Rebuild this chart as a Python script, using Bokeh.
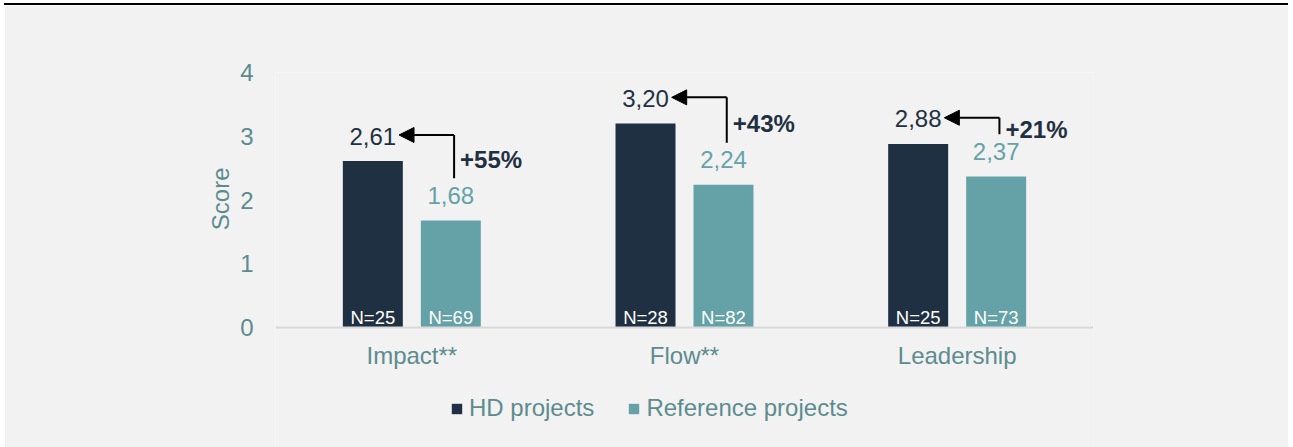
from bokeh.plotting import figure
from bokeh.models import (ColumnDataSource, FactorRange, Range1d, FixedTicker, Legend, LegendItem,
                          Arrow, NormalHead, Div, Title)
from bokeh.layouts import column
from bokeh.transform import dodge
from bokeh.core.properties import value
from bokeh.embed import file_html
from bokeh.resources import INLINE

# ---- data ----
categories = ["Impact**", "Flow**", "Leadership"]
hd_scores = [2.61, 3.20, 2.88]
ref_scores = [1.68, 2.24, 2.37]
hd_n = [25, 28, 25]
ref_n = [69, 82, 73]
pct_labels = ["+55%", "+43%", "+21%"]
series_names = ["HD projects", "Reference projects"]
y_ticks = [0, 1, 2, 3, 4]
y_title = "Score"

# ---- style ----
FONT = "Liberation Sans"
FS = "24px"
DARK = "#1F3042"
TEAL = "#65A2A8"
AXIS_TXT = "#5C8C8F"
BG = "#F2F2F2"
OFF = 0.143
BAR_W = 0.22
PX_PER_UNIT = 63.75
BELOW_PX = 120  # room below the zero line for category labels and legend


def fmt(v):
    return f"{v:.2f}".replace(".", ",")


src = ColumnDataSource(dict(
    cat=categories,
    hd=hd_scores,
    ref=ref_scores,
    hd_lbl=[fmt(v) for v in hd_scores],
    ref_lbl=[fmt(v) for v in ref_scores],
    hd_n=[f"N={n}" for n in hd_n],
    ref_n=[f"N={n}" for n in ref_n],
    zero=[0] * len(categories),
))

p = figure(width=1284, height=442, x_range=FactorRange(*categories, range_padding=0),
           y_range=Range1d(-BELOW_PX / PX_PER_UNIT, 4), output_backend="svg", toolbar_location=None,
           min_border_left=271, min_border_right=195, min_border_top=67, min_border_bottom=0,
           background_fill_color=BG, border_fill_color=BG)
p.outline_line_color = None
p.xgrid.visible = False
p.ygrid.visible = False

r_hd = p.vbar(x=dodge("cat", -OFF, range=p.x_range), top="hd", width=BAR_W, source=src,
              fill_color=DARK, line_color=None)
r_ref = p.vbar(x=dodge("cat", OFF, range=p.x_range), top="ref", width=BAR_W, source=src,
               fill_color=TEAL, line_color=None)

# value labels
p.text(x=dodge("cat", -OFF, range=p.x_range), y="hd", text="hd_lbl", source=src,
       text_align="center", text_baseline="middle", y_offset=-25,
       text_font=value(FONT), text_font_size=FS, text_color=DARK)
p.text(x=dodge("cat", OFF, range=p.x_range), y="ref", text="ref_lbl", source=src,
       text_align="center", text_baseline="middle", y_offset=-25,
       text_font=value(FONT), text_font_size=FS, text_color=TEAL)

# N labels
p.text(x=dodge("cat", -OFF, range=p.x_range), y="zero", text="hd_n", source=src,
       text_align="center", text_baseline="middle", y_offset=-10,
       text_font=value(FONT), text_font_size="18.5px", text_color="white")
p.text(x=dodge("cat", OFF, range=p.x_range), y="zero", text="ref_n", source=src,
       text_align="center", text_baseline="middle", y_offset=-10,
       text_font=value(FONT), text_font_size="18.5px", text_color="white")

# difference arrows
vx = [i + 0.5 + 0.155 for i in range(len(categories))]
tipx = [i + 0.5 - 0.047 for i in range(len(categories))]
top_y = [h + 0.41 for h in hd_scores]
bot_y = [r + 0.66 for r in ref_scores]
pct_y = [(a + b) / 2 - 0.05 for a, b in zip(top_y, bot_y)]
asrc = ColumnDataSource(dict(vx=vx, tipx=tipx, top=top_y, bot=bot_y, pct_y=pct_y, pct=pct_labels))

p.segment(x0="vx", y0="bot", x1="vx", y1="top", source=asrc, line_color="black", line_width=2)
p.add_layout(Arrow(x_start="vx", y_start="top", x_end="tipx", y_end="top", source=asrc,
                   line_color="black", line_width=2,
                   end=NormalHead(size=15, fill_color="black", line_color="black", line_width=1)))
p.text(x="vx", y="pct_y", text="pct", source=asrc, x_offset=6,
       text_align="left", text_baseline="middle",
       text_font=value(FONT), text_font_size=FS, text_font_style="bold", text_color=DARK)

# axes
p.yaxis.ticker = FixedTicker(ticks=y_ticks)
p.yaxis.axis_line_color = None
p.yaxis.major_tick_line_color = None
p.yaxis.minor_tick_line_color = None
p.yaxis.major_tick_out = 0
p.yaxis.major_tick_in = 0
p.yaxis.major_label_standoff = 22
p.yaxis.major_label_text_font = FONT
p.yaxis.major_label_text_font_size = FS
p.yaxis.major_label_text_color = AXIS_TXT

# y title, centred on the 0..4 part of the axis
p.add_layout(Title(text=y_title, align="right", offset=95, standoff=7,
                   text_font=FONT, text_font_size=FS, text_font_style="normal",
                   text_color=AXIS_TXT), "left")

p.xaxis.fixed_location = 0
p.xaxis.axis_line_color = "#D9D9D9"
p.xaxis.axis_line_width = 2
p.xaxis.major_tick_line_color = None
p.xaxis.minor_tick_line_color = None
p.xaxis.major_tick_out = 0
p.xaxis.major_tick_in = 0
p.xaxis.major_label_standoff = 14
p.xaxis.major_label_text_font = FONT
p.xaxis.major_label_text_font_size = FS
p.xaxis.major_label_text_color = AXIS_TXT

legend = Legend(items=[LegendItem(label=series_names[0], renderers=[r_hd]),
                       LegendItem(label=series_names[1], renderers=[r_ref])],
                orientation="horizontal", location=(175, 25),
                glyph_width=13, glyph_height=13, label_standoff=6, spacing=33,
                padding=0, margin=0, border_line_color=None, background_fill_alpha=0,
                label_text_font=FONT, label_text_font_size=FS, label_text_color=AXIS_TXT)
p.add_layout(legend, "center")

bar = Div(width=1284, height=2, margin=0, styles={"background-color": "black"})
layout = column(bar, p, margin=(3, 0, 0, 4), spacing=0)

open("out.html", "w").write(file_html(layout, INLINE))
